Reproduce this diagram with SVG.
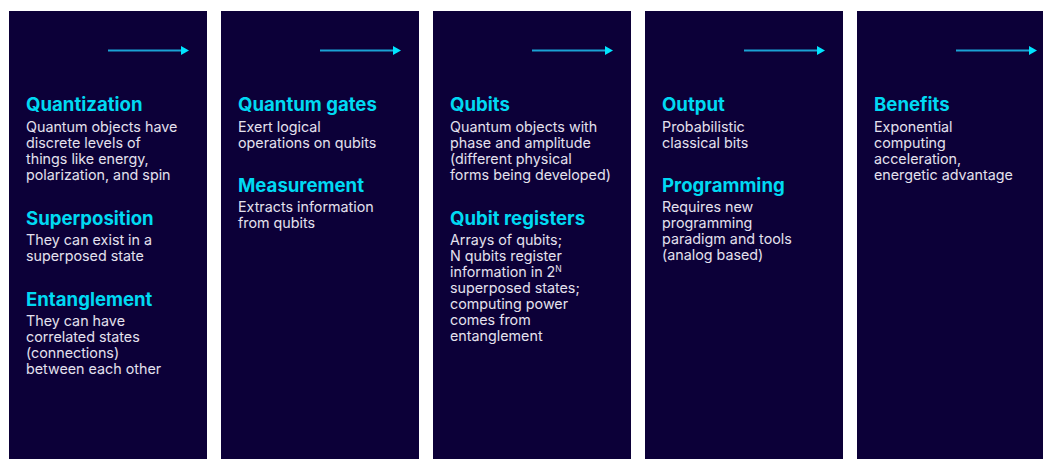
<svg xmlns="http://www.w3.org/2000/svg" width="1043" height="459" viewBox="0 0 1043 459">
<style>
.col{fill:#0c0038}
.h{font-family:Inter,"Liberation Sans",sans-serif;font-weight:700;font-size:18.6px;fill:#00d9f2}
.b{font-family:Inter,"Liberation Sans",sans-serif;font-size:14.3px;fill:#e4e1ee}
.ln{stroke:#1aa2d4;stroke-width:2;fill:none}
.hd{fill:#00e5ff}
</style>
<defs>
<g id="arrow"><line class="ln" x1="0" y1="50.5" x2="74" y2="50.5"/><polygon class="hd" points="73,46 81,50.5 73,55"/></g>
</defs>
<rect width="1043" height="459" fill="#ffffff"/>
<g id="col1">
<rect class="col" x="9" y="11" width="198" height="448"/>
<text class="h" x="26" y="111">Quantization</text>
<text class="b" x="26" y="132">Quantum objects have</text>
<text class="b" x="26" y="148">discrete levels of</text>
<text class="b" x="26" y="164">things like energy,</text>
<text class="b" x="26" y="180">polarization, and spin</text>
<text class="h" x="26" y="225">Superposition</text>
<text class="b" x="26" y="245">They can exist in a</text>
<text class="b" x="26" y="261">superposed state</text>
<text class="h" x="26" y="306">Entanglement</text>
<text class="b" x="26" y="326">They can have</text>
<text class="b" x="26" y="342">correlated states</text>
<text class="b" x="26" y="358">(connections)</text>
<text class="b" x="26" y="374">between each other</text>
</g>
<g id="col2">
<rect class="col" x="221" y="11" width="198" height="448"/>
<text class="h" x="238" y="111">Quantum gates</text>
<text class="b" x="238" y="132">Exert logical</text>
<text class="b" x="238" y="148">operations on qubits</text>
<text class="h" x="238" y="192">Measurement</text>
<text class="b" x="238" y="212">Extracts information</text>
<text class="b" x="238" y="228">from qubits</text>
</g>
<g id="col3">
<rect class="col" x="433" y="11" width="198" height="448"/>
<text class="h" x="450" y="111">Qubits</text>
<text class="b" x="450" y="132">Quantum objects with</text>
<text class="b" x="450" y="148">phase and amplitude</text>
<text class="b" x="450" y="164">(different physical</text>
<text class="b" x="450" y="180">forms being developed)</text>
<text class="h" x="450" y="225">Qubit registers</text>
<text class="b" x="450" y="245">Arrays of qubits;</text>
<text class="b" x="450" y="261">N qubits register</text>
<text class="b" x="450" y="277">information in 2<tspan font-size="8.5" dy="-5.5">N</tspan></text>
<text class="b" x="450" y="293">superposed states;</text>
<text class="b" x="450" y="309">computing power</text>
<text class="b" x="450" y="325">comes from</text>
<text class="b" x="450" y="341">entanglement</text>
</g>
<g id="col4">
<rect class="col" x="645" y="11" width="198" height="448"/>
<text class="h" x="662" y="111">Output</text>
<text class="b" x="662" y="132">Probabilistic</text>
<text class="b" x="662" y="148">classical bits</text>
<text class="h" x="662" y="192">Programming</text>
<text class="b" x="662" y="212">Requires new</text>
<text class="b" x="662" y="228">programming</text>
<text class="b" x="662" y="244">paradigm and tools</text>
<text class="b" x="662" y="260">(analog based)</text>
</g>
<g id="col5">
<rect class="col" x="857" y="11" width="186" height="448"/>
<text class="h" x="874" y="111">Benefits</text>
<text class="b" x="874" y="132">Exponential</text>
<text class="b" x="874" y="148">computing</text>
<text class="b" x="874" y="164">acceleration,</text>
<text class="b" x="874" y="180">energetic advantage</text>
</g>
<g id="connectors">
<use href="#arrow" x="108"/>
<use href="#arrow" x="320"/>
<use href="#arrow" x="532"/>
<use href="#arrow" x="744"/>
<use href="#arrow" x="956"/>
</g>
</svg>
